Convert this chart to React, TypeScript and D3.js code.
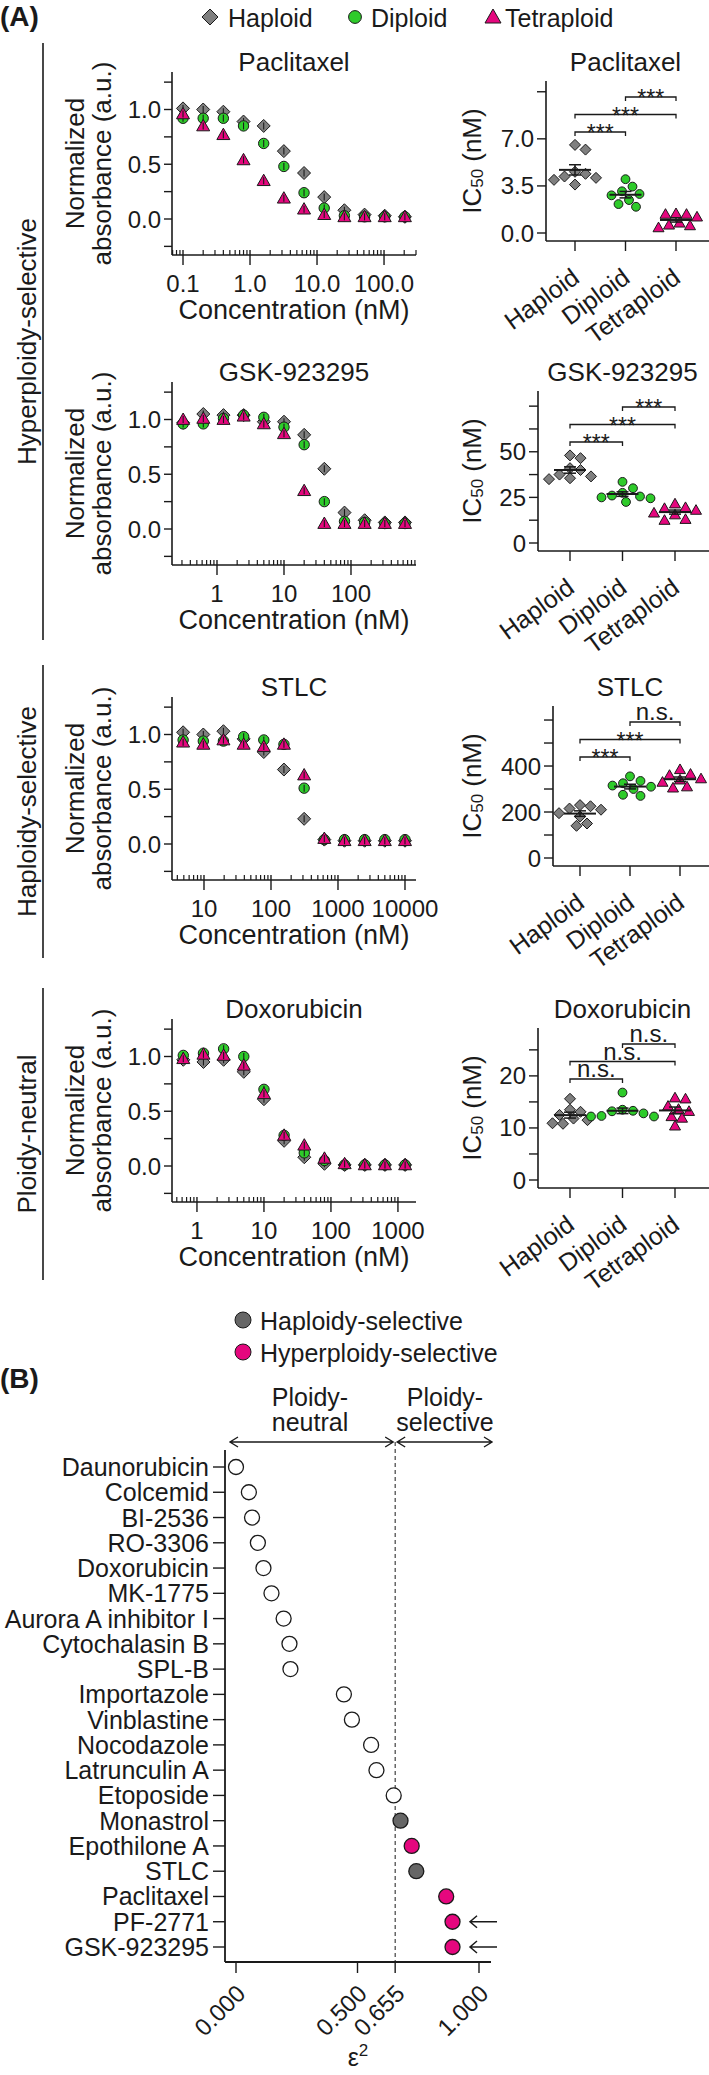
import * as d3 from 'd3'

const FONT = '"Liberation Sans", Arial, Helvetica, sans-serif'
const INK = '#1a1a1a'
const HAPLOID_FILL = '#7f7f7f'
const DIPLOID_FILL = '#2ecb2a'
const TETRAPLOID_FILL = '#e5077e'
const HAPLO_SEL_FILL = '#666666'

// ---------- Panel A data ----------
const groups = ['Haploid', 'Diploid', 'Tetraploid']
const drugTitles = ['Paclitaxel', 'GSK-923295', 'STLC', 'Doxorubicin']
const selectivityLabels = ['Hyperploidy-selective', 'Haploidy-selective', 'Ploidy-neutral']
const comparisons = [[0, 1], [0, 2], [1, 2]]

const paclitaxelConc = [0.1, 0.2, 0.4, 0.8, 1.6, 3.2, 6.4, 12.8, 25.6, 51.2, 102.4, 204.8]
const paclitaxelHaploid = [1.01, 1.0, 0.98, 0.89, 0.85, 0.62, 0.42, 0.2, 0.08, 0.04, 0.03, 0.02]
const paclitaxelDiploid = [0.92, 0.92, 0.92, 0.85, 0.69, 0.48, 0.24, 0.1, 0.03, 0.02, 0.02, 0.02]
const paclitaxelTetraploid = [0.96, 0.85, 0.77, 0.54, 0.35, 0.19, 0.09, 0.04, 0.02, 0.02, 0.02, 0.02]
const paclitaxelXTicks = [0.1, 1, 10, 100]
const paclitaxelXTickLabels = ['0.1', '1.0', '10.0', '100.0']

const gskConc = [0.3125, 0.625, 1.25, 2.5, 5, 10, 20, 40, 80, 160, 320, 640]
const gskHaploid = [0.97, 1.05, 1.04, 1.04, 0.98, 0.98, 0.86, 0.55, 0.15, 0.08, 0.06, 0.06]
const gskDiploid = [0.96, 0.96, 1.01, 1.04, 1.02, 0.93, 0.77, 0.25, 0.07, 0.06, 0.05, 0.05]
const gskTetraploid = [1.0, 1.01, 1.0, 1.03, 0.96, 0.87, 0.35, 0.05, 0.05, 0.05, 0.05, 0.05]
const gskXTicks = [1, 10, 100]
const gskXTickLabels = ['1', '10', '100']

const stlcConc = [4.88, 9.77, 19.5, 39.1, 78.1, 156, 312.5, 625, 1250, 2500, 5000, 10000]
const stlcHaploid = [1.02, 1.0, 1.03, 0.96, 0.84, 0.68, 0.23, 0.04, 0.03, 0.03, 0.03, 0.03]
const stlcDiploid = [0.95, 0.94, 0.94, 0.98, 0.95, 0.91, 0.51, 0.04, 0.04, 0.04, 0.04, 0.04]
const stlcTetraploid = [0.93, 0.91, 0.95, 0.91, 0.89, 0.91, 0.63, 0.05, 0.03, 0.03, 0.03, 0.03]
const stlcXTicks = [10, 100, 1000, 10000]
const stlcXTickLabels = ['10', '100', '1000', '10000']

const doxoConc = [0.625, 1.25, 2.5, 5, 10, 20, 40, 80, 160, 320, 640, 1280]
const doxoHaploid = [0.97, 0.95, 0.97, 0.86, 0.61, 0.23, 0.08, 0.02, 0.01, 0.01, 0.01, 0.01]
const doxoDiploid = [1.01, 1.03, 1.07, 1.0, 0.7, 0.28, 0.12, 0.05, 0.01, 0.01, 0.01, 0.01]
const doxoTetraploid = [0.98, 1.02, 1.01, 0.92, 0.66, 0.28, 0.19, 0.07, 0.02, 0.01, 0.01, 0.01]
const doxoXTicks = [1, 10, 100, 1000]
const doxoXTickLabels = ['1', '10', '100', '1000']

const absTicks = [-0.25, 0, 0.25, 0.5, 0.75, 1, 1.25]
const absTickLabels = ['', '0.0', '', '0.5', '', '1.0', '']

// IC50 (nM), 8 replicates per ploidy
const paclitaxelIcHaploid = [6.55, 6.2, 4.55, 4.4, 4.2, 4.1, 3.95, 3.6]
const paclitaxelIcDiploid = [4.0, 3.45, 3.1, 2.9, 2.8, 2.45, 2.15, 1.95]
const paclitaxelIcTetraploid = [1.45, 1.4, 1.4, 1.2, 0.75, 0.6, 0.55, 0.4]
const paclitaxelIcTicks = [0, 3.5, 7, 10.5]
const paclitaxelIcTickLabels = ['0.0', '3.5', '7.0', '']
const paclitaxelSig = ['***', '***', '***']

const gskIcHaploid = [48, 46.5, 41, 40, 37.5, 36.5, 35.5, 35]
const gskIcDiploid = [33.5, 30, 27.5, 26, 25.5, 25, 24.5, 22.5]
const gskIcTetraploid = [21.5, 19.5, 19, 18, 16.5, 15.5, 13, 12.5]
const gskIcTicks = [0, 12.5, 25, 37.5, 50, 62.5, 75]
const gskIcTickLabels = ['0', '', '25', '', '50', '', '']
const gskSig = ['***', '***', '***']

const stlcIcHaploid = [230, 225, 215, 210, 195, 180, 150, 140]
const stlcIcDiploid = [355, 335, 325, 315, 310, 300, 275, 270]
const stlcIcTetraploid = [385, 365, 360, 345, 340, 330, 310, 305]
const stlcIcTicks = [0, 100, 200, 300, 400, 500, 600]
const stlcIcTickLabels = ['0', '', '200', '', '400', '', '']
const stlcSig = ['***', '***', 'n.s.']

const doxoIcHaploid = [15.6, 13.5, 13.1, 12.5, 11.8, 11.5, 10.9, 10.8]
const doxoIcDiploid = [16.8, 13.5, 13.3, 13.2, 12.8, 12.3, 12.2, 12.2]
const doxoIcTetraploid = [15.8, 15.6, 14.2, 13.6, 13.2, 12.2, 11.9, 10.4]
const doxoIcTicks = [0, 5, 10, 15, 20, 25]
const doxoIcTickLabels = ['0', '', '10', '', '20', '']
const doxoSig = ['n.s.', 'n.s.', 'n.s.']

// ---------- Panel B data ----------
const compounds = [
  'Daunorubicin', 'Colcemid', 'BI-2536', 'RO-3306', 'Doxorubicin', 'MK-1775',
  'Aurora A inhibitor I', 'Cytochalasin B', 'SPL-B', 'Importazole', 'Vinblastine',
  'Nocodazole', 'Latrunculin A', 'Etoposide', 'Monastrol', 'Epothilone A', 'STLC',
  'Paclitaxel', 'PF-2771', 'GSK-923295',
]
const epsilonSq = [
  0.0, 0.053, 0.066, 0.09, 0.113, 0.146, 0.196, 0.22, 0.224, 0.444, 0.477,
  0.556, 0.578, 0.649, 0.677, 0.723, 0.742, 0.865, 0.891, 0.891,
]
const selectivity = [
  'none', 'none', 'none', 'none', 'none', 'none', 'none', 'none', 'none', 'none',
  'none', 'none', 'none', 'none', 'haplo', 'hyper', 'haplo', 'hyper', 'hyper', 'hyper',
]
const highlighted = ['PF-2771', 'GSK-923295']
const epsilonTicks = [0, 0.5, 0.655, 1]
const epsilonTickLabels = ['0.000', '0.500', '0.655', '1.000']
const epsilonThreshold = 0.655

// ---------- layout ----------
const ROW_ZERO = [219, 529, 844, 1166]
const UNIT = 109.5
const LEFT_RANGE = [172, 416]
const RIGHT_AXIS_X = [546, 538, 553, 538]
const RIGHT_CAT_RANGE = [[575, 676], [570, 675], [580, 680], [570, 675]]
const BRACKETS = [[43, 640], [665, 958], [988, 1280]]
const fills = [HAPLOID_FILL, DIPLOID_FILL, TETRAPLOID_FILL]

const rowsA = [
  { resp: [paclitaxelHaploid, paclitaxelDiploid, paclitaxelTetraploid], conc: paclitaxelConc, xDomain: [0.0685, 300], xTicks: paclitaxelXTicks, xLabels: paclitaxelXTickLabels, ic: [paclitaxelIcHaploid, paclitaxelIcDiploid, paclitaxelIcTetraploid], icMax: 11.3, icTicks: paclitaxelIcTicks, icLabels: paclitaxelIcTickLabels, sig: paclitaxelSig },
  { resp: [gskHaploid, gskDiploid, gskTetraploid], conc: gskConc, xDomain: [0.213, 934], xTicks: gskXTicks, xLabels: gskXTickLabels, ic: [gskIcHaploid, gskIcDiploid, gskIcTetraploid], icMax: 83.3, icTicks: gskIcTicks, icLabels: gskIcTickLabels, sig: gskSig },
  { resp: [stlcHaploid, stlcDiploid, stlcTetraploid], conc: stlcConc, xDomain: [3.33, 14600], xTicks: stlcXTicks, xLabels: stlcXTickLabels, ic: [stlcIcHaploid, stlcIcDiploid, stlcIcTetraploid], icMax: 661, icTicks: stlcIcTicks, icLabels: stlcIcTickLabels, sig: stlcSig },
  { resp: [doxoHaploid, doxoDiploid, doxoTetraploid], conc: doxoConc, xDomain: [0.424, 1860], xTicks: doxoXTicks, xLabels: doxoXTickLabels, ic: [doxoIcHaploid, doxoIcDiploid, doxoIcTetraploid], icMax: 29.2, icTicks: doxoIcTicks, icLabels: doxoIcTickLabels, sig: doxoSig },
]

function Marker({ g, x, y, s }: { g: number; x: number; y: number; s: number }) {
  if (g === 0)
    return <path d={`M${x},${y - s}L${x + s},${y}L${x},${y + s}L${x - s},${y}Z`} fill={fills[0]} stroke={INK} strokeWidth={1} />
  if (g === 1) return <circle cx={x} cy={y} r={s * 0.8} fill={fills[1]} stroke={INK} strokeWidth={1} />
  return <path d={`M${x},${y - s}L${x + s},${y + s * 0.75}L${x - s},${y + s * 0.75}Z`} fill={fills[2]} stroke={INK} strokeWidth={1} />
}

// simple beeswarm so replicate points do not sit on top of each other
function swarm(values: number[], y: (v: number) => number, minDist: number) {
  const order = values.map((_, i) => i).sort((a, b) => values[b] - values[a])
  const placed: { x: number; y: number }[] = []
  const out = values.map(() => 0)
  for (const i of order) {
    const py = y(values[i])
    const cands = [0]
    for (let k = 1; k < 10; k++) cands.push(k * 3.5, -k * 3.5)
    for (const dx of cands) {
      if (placed.every((p) => Math.hypot(p.x - dx, p.y - py) >= minDist)) {
        out[i] = dx
        placed.push({ x: dx, y: py })
        break
      }
    }
  }
  return out
}

function DosePanel({ i }: { i: number }) {
  const row = rowsA[i]
  const zero = ROW_ZERO[i]
  const x = d3.scaleLog().domain(row.xDomain).range(LEFT_RANGE)
  const y = d3.scaleLinear().domain([0, 1]).range([zero, zero - UNIT])
  const axisY = zero + 36
  const top = zero - 147
  const [d0, d1] = row.xDomain
  const minor: number[] = []
  for (let e = Math.floor(Math.log10(d0)); e <= Math.floor(Math.log10(d1)); e++) {
    for (let m = 2; m <= 9; m++) {
      const v = m * Math.pow(10, e)
      if (v >= d0 && v <= d1) minor.push(v)
    }
  }
  const midX = (LEFT_RANGE[0] + LEFT_RANGE[1]) / 2
  const midY = (top + axisY) / 2
  return (
    <g>
      <text x={midX} y={zero - 157} fontSize={26} textAnchor="middle" dominantBaseline="central">{drugTitles[i]}</text>
      <text transform={`translate(75,${midY}) rotate(-90)`} fontSize={26} textAnchor="middle" dominantBaseline="central">Normalized</text>
      <text transform={`translate(102,${midY}) rotate(-90)`} fontSize={26} textAnchor="middle" dominantBaseline="central">absorbance (a.u.)</text>
      <line x1={LEFT_RANGE[0]} x2={LEFT_RANGE[0]} y1={top} y2={axisY} stroke={INK} strokeWidth={1.6} />
      <line x1={LEFT_RANGE[0]} x2={LEFT_RANGE[1]} y1={axisY} y2={axisY} stroke={INK} strokeWidth={1.6} />
      {absTicks.map((t, k) => (
        <g key={k}>
          <line x1={LEFT_RANGE[0] - 8} x2={LEFT_RANGE[0]} y1={y(t)} y2={y(t)} stroke={INK} strokeWidth={1.4} />
          {absTickLabels[k] && (
            <text x={161} y={y(t)} fontSize={24} textAnchor="end" dominantBaseline="central">{absTickLabels[k]}</text>
          )}
        </g>
      ))}
      {minor.map((v, k) => (
        <line key={k} x1={x(v)} x2={x(v)} y1={axisY - 5} y2={axisY} stroke={INK} strokeWidth={1.2} />
      ))}
      {row.xTicks.map((v, k) => (
        <g key={k}>
          <line x1={x(v)} x2={x(v)} y1={axisY - 5} y2={axisY + 10} stroke={INK} strokeWidth={1.4} />
          <text x={x(v)} y={axisY + 28} fontSize={24} textAnchor="middle" dominantBaseline="central">{row.xLabels[k]}</text>
        </g>
      ))}
      <text x={midX} y={axisY + 55} fontSize={27} textAnchor="middle" dominantBaseline="central">Concentration (nM)</text>
      {row.resp.map((series, g) => (
        <g key={g}>
          {series.map((v, k) => (
            <g key={k}>
              <Marker g={g} x={x(row.conc[k])} y={y(v)} s={6.5} />
              <line x1={x(row.conc[k])} x2={x(row.conc[k])} y1={y(v) - 3.5} y2={y(v) + 3.5} stroke={INK} strokeWidth={1.1} />
            </g>
          ))}
        </g>
      ))}
    </g>
  )
}

function IcPanel({ i }: { i: number }) {
  const row = rowsA[i]
  const zeroR = ROW_ZERO[i] + 14
  const ax = RIGHT_AXIS_X[i]
  const axisY = zeroR + 8
  const top = zeroR - 152
  const y = d3.scaleLinear().domain([0, row.icMax]).range([zeroR, top])
  const cat = d3.scalePoint<string>().domain(groups).range(RIGHT_CAT_RANGE[i])
  const midY = (top + axisY) / 2
  const titleX = (RIGHT_CAT_RANGE[i][0] + RIGHT_CAT_RANGE[i][1]) / 2
  const sigOffsets = [-101, -118.5, -136]
  return (
    <g>
      <text x={titleX} y={ROW_ZERO[i] - 157} fontSize={26} textAnchor="middle" dominantBaseline="central">{drugTitles[i]}</text>
      <text transform={`translate(472,${midY}) rotate(-90)`} fontSize={26} textAnchor="middle" dominantBaseline="central">
        IC<tspan fontSize={17} dy={5}>50</tspan><tspan dy={-5} dx={7}>(nM)</tspan>
      </text>
      <line x1={ax} x2={ax} y1={top} y2={axisY} stroke={INK} strokeWidth={1.6} />
      <line x1={ax} x2={709} y1={axisY} y2={axisY} stroke={INK} strokeWidth={1.6} />
      {row.icTicks.map((t, k) => (
        <g key={k}>
          <line x1={ax - 9} x2={ax} y1={y(t)} y2={y(t)} stroke={INK} strokeWidth={1.4} />
          {row.icLabels[k] && (
            <text x={ax - 12} y={y(t)} fontSize={24} textAnchor="end" dominantBaseline="central">{row.icLabels[k]}</text>
          )}
        </g>
      ))}
      {groups.map((gName) => (
        <g key={gName}>
          <line x1={cat(gName)} x2={cat(gName)} y1={axisY} y2={axisY + 10} stroke={INK} strokeWidth={1.4} />
          <text transform={`translate(${(cat(gName) as number) + 6},${axisY + 40}) rotate(-36)`} fontSize={25} textAnchor="end">{gName}</text>
        </g>
      ))}
      {row.ic.map((vals, g) => {
        const cx = cat(groups[g]) as number
        const offs = swarm(vals, y, 9.5)
        const mean = d3.mean(vals) as number
        const sem = (d3.deviation(vals) as number) / Math.sqrt(vals.length)
        return (
          <g key={g}>
            {vals.map((v, k) => <Marker key={k} g={g} x={cx + offs[k]} y={y(v)} s={5.5} />)}
            <line x1={cx - 16} x2={cx + 16} y1={y(mean)} y2={y(mean)} stroke={INK} strokeWidth={2} />
            <line x1={cx} x2={cx} y1={y(mean + sem)} y2={y(mean - sem)} stroke={INK} strokeWidth={1.5} />
            <line x1={cx - 6} x2={cx + 6} y1={y(mean + sem)} y2={y(mean + sem)} stroke={INK} strokeWidth={1.5} />
            <line x1={cx - 6} x2={cx + 6} y1={y(mean - sem)} y2={y(mean - sem)} stroke={INK} strokeWidth={1.5} />
          </g>
        )
      })}
      {comparisons.map(([a, b], k) => {
        const x1 = cat(groups[a]) as number
        const x2 = cat(groups[b]) as number
        const ly = zeroR + sigOffsets[k]
        const label = row.sig[k]
        return (
          <g key={k}>
            <path d={`M${x1},${ly + 4}V${ly}H${x2}V${ly + 4}`} fill="none" stroke={INK} strokeWidth={1.3} />
            <text x={(x1 + x2) / 2} y={label === '***' ? ly + 9 : ly - 2} fontSize={label === '***' ? 23 : 24} textAnchor="middle">{label}</text>
          </g>
        )
      })}
    </g>
  )
}

function PanelA() {
  const legendX = [210, 355, 493]
  const legendTextX = [228, 371, 505]
  return (
    <g>
      <text x={0} y={16} fontSize={28} fontWeight="bold" dominantBaseline="central">(A)</text>
      {groups.map((gName, g) => (
        <g key={gName}>
          <Marker g={g} x={legendX[g]} y={17} s={8} />
          <text x={legendTextX[g]} y={18} fontSize={25} dominantBaseline="central">{gName}</text>
        </g>
      ))}
      {BRACKETS.map(([y0, y1], k) => (
        <g key={k}>
          <line x1={43} x2={43} y1={y0} y2={y1} stroke={INK} strokeWidth={1.6} />
          <text transform={`translate(27,${(y0 + y1) / 2}) rotate(-90)`} fontSize={26} textAnchor="middle" dominantBaseline="central">{selectivityLabels[k]}</text>
        </g>
      ))}
      {rowsA.map((_, i) => (
        <g key={i}>
          <DosePanel i={i} />
          <IcPanel i={i} />
        </g>
      ))}
    </g>
  )
}

function PanelB() {
  const x = d3.scaleLinear().domain([0, 1]).range([236, 479])
  const y = d3.scalePoint<string>().domain(compounds).range([1467, 1947])
  const axisX = 225
  const axisY = 1962
  const top = 1450
  const arrowY = 1442
  const fillFor = (s: string) => (s === 'hyper' ? TETRAPLOID_FILL : s === 'haplo' ? HAPLO_SEL_FILL : '#ffffff')
  const dblArrow = (x1: number, x2: number) =>
    `M${x1},${arrowY}H${x2}M${x1 + 8},${arrowY - 5}L${x1},${arrowY}L${x1 + 8},${arrowY + 5}M${x2 - 8},${arrowY - 5}L${x2},${arrowY}L${x2 - 8},${arrowY + 5}`
  return (
    <g>
      <circle cx={243} cy={1320} r={8} fill={HAPLO_SEL_FILL} stroke={INK} strokeWidth={1} />
      <text x={260} y={1321} fontSize={25} dominantBaseline="central">Haploidy-selective</text>
      <circle cx={243} cy={1352} r={8} fill={TETRAPLOID_FILL} stroke={INK} strokeWidth={1} />
      <text x={260} y={1353} fontSize={25} dominantBaseline="central">Hyperploidy-selective</text>
      <text x={0} y={1378} fontSize={28} fontWeight="bold" dominantBaseline="central">(B)</text>

      <text x={310} y={1397} fontSize={25} textAnchor="middle" dominantBaseline="central">Ploidy-</text>
      <text x={310} y={1422} fontSize={25} textAnchor="middle" dominantBaseline="central">neutral</text>
      <text x={445} y={1397} fontSize={25} textAnchor="middle" dominantBaseline="central">Ploidy-</text>
      <text x={445} y={1422} fontSize={25} textAnchor="middle" dominantBaseline="central">selective</text>
      <path d={dblArrow(230, x(epsilonThreshold) - 2)} fill="none" stroke={INK} strokeWidth={1.4} />
      <path d={dblArrow(x(epsilonThreshold) + 2, 492)} fill="none" stroke={INK} strokeWidth={1.4} />
      <line x1={x(epsilonThreshold)} x2={x(epsilonThreshold)} y1={arrowY} y2={axisY} stroke={INK} strokeWidth={1} strokeDasharray="4,3" />

      <line x1={axisX} x2={axisX} y1={top} y2={axisY} stroke={INK} strokeWidth={1.8} />
      <line x1={axisX} x2={491} y1={axisY} y2={axisY} stroke={INK} strokeWidth={1.8} />
      {compounds.map((c, k) => (
        <g key={c}>
          <line x1={axisX - 12} x2={axisX} y1={y(c)} y2={y(c)} stroke={INK} strokeWidth={1.4} />
          <text x={209} y={y(c)} fontSize={25} textAnchor="end" dominantBaseline="central">{c}</text>
          <circle cx={x(epsilonSq[k])} cy={y(c)} r={7.5} fill={fillFor(selectivity[k])} stroke={INK} strokeWidth={1.3} />
          {highlighted.includes(c) && (
            <path
              d={`M470,${y(c)}H497M477,${(y(c) as number) - 6}L470,${y(c)}L477,${(y(c) as number) + 6}`}
              fill="none" stroke={INK} strokeWidth={1.5}
            />
          )}
        </g>
      ))}
      {epsilonTicks.map((t, k) => (
        <g key={k}>
          <line x1={x(t)} x2={x(t)} y1={axisY} y2={axisY + 11} stroke={INK} strokeWidth={1.4} />
          <text transform={`translate(${x(t) + 11},${axisY + 33}) rotate(-45)`} fontSize={24} textAnchor="end">{epsilonTickLabels[k]}</text>
        </g>
      ))}
      <text x={358} y={2066} fontSize={25} textAnchor="middle">
        ε<tspan fontSize={17} dy={-10}>2</tspan>
      </text>
    </g>
  )
}

export default function App() {
  return (
    <div style={{ position: 'absolute', left: 0, top: 0 }}>
      <svg width={709} height={2075} viewBox="0 0 709 2075" style={{ display: 'block', background: '#fff' }} fontFamily={FONT} fill={INK}>
        <PanelA />
        <PanelB />
      </svg>
    </div>
  )
}
